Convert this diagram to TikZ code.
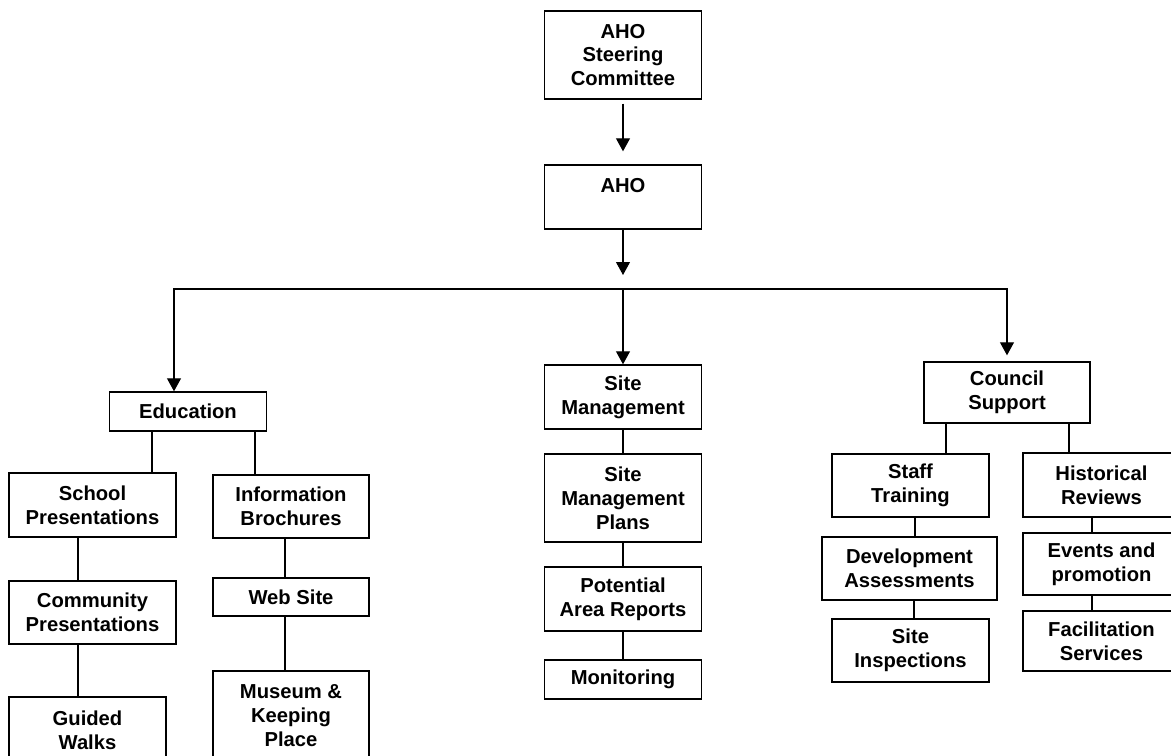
\documentclass[tikz,border=0pt]{standalone}
\usepackage{fontspec}
\setmainfont{Liberation Sans}
\usetikzlibrary{arrows.meta}

\begin{document}
\begin{tikzpicture}[x=0.02cm, y=-0.02cm, font=\bfseries\fontsize{11.5}{13.6}\selectfont,
	box/.style={draw, line width=0.8pt, align=center, inner sep=0pt, minimum width=3.14cm, minimum height=#1},
	box/.default=1.28cm,
	link/.style={line width=0.6pt},
	arr/.style={line width=0.6pt, -{Triangle[length=2.6mm, width=2.8mm]}}]
	\useasboundingbox (0,0) rectangle (1171,756);
	\clip (0,0) rectangle (1171,756);
	\node[box=1.76cm] (steer) at (623,55) {AHO\\Steering\\Committee};
	\node[box] (aho) at (623,197) {AHO\\~};
	\coordinate (split) at (623,289);
	\node[box=0.78cm] (edu) at (188,411.5) {Education};
	\node[box] (site) at (623,397) {Site\\Management};
	\node[box=1.22cm, minimum width=3.32cm] (council) at (1007,392.5) {Council\\Support};

	\node[box=1.28cm, minimum width=3.34cm] (school) at (92.5,505) {School\\Presentations};
	\node[box=1.26cm, minimum width=3.34cm] (community) at (92.5,612.5) {Community\\Presentations};
	\node[box=1.32cm] (guided) at (87.5,730) {Guided\\Walks};
	\node[box=1.26cm, minimum width=3.12cm] (info) at (291,506.5) {Information\\Brochures};
	\node[box=0.76cm, minimum width=3.12cm] (web) at (291,597) {Web Site};
	\node[box=1.8cm, minimum width=3.12cm] (museum) at (291,716) {Museum \&\\Keeping\\Place};

	\node[box=1.76cm] (plans) at (623,498) {Site\\Management\\Plans};
	\node[box] (reports) at (623,599) {Potential\\Area Reports};
	\node[box=0.78cm] (monitor) at (623,679.5) {Monitoring};

	\node[box=1.26cm] (staff) at (910.5,485.5) {Staff\\Training};
	\node[box=1.26cm, minimum width=3.5cm] (devel) at (909.5,568.5) {Development\\Assessments};
	\node[box=1.26cm] (inspect) at (910.5,650.5) {Site\\Inspections};
	\node[box] (hist) at (1101.5,485) {Historical\\Reviews};
	\node[box=1.24cm] (events) at (1101.5,564) {Events and\\promotion};
	\node[box=1.2cm] (facil) at (1101.5,641) {Facilitation\\Services};

	\draw[arr, shorten <=0.08cm, shorten >=0.26cm] (steer) -- (aho);
	\draw[arr, shorten >=0.28cm] (aho) -- (split);
	\draw[arr] (split) -| ([xshift=-0.28cm]edu.north);
	\draw[arr] (split) -- (site);
	\draw[arr] (split) -| ([yshift=0.12cm]council.north);

	\draw[link] ([xshift=-0.72cm]edu.south) -- ([xshift=-0.72cm]edu.south |- school.north);
	\draw[link] ([xshift=1.34cm]edu.south) -- ([xshift=1.34cm]edu.south |- info.north);
	\draw[link] ([xshift=-0.29cm]school.south) -- ([xshift=-0.29cm]school.south |- community.north);
	\draw[link] ([xshift=-0.29cm]community.south) -- ([xshift=-0.29cm]community.south |- guided.north);
	\draw[link] ([xshift=-0.12cm]info.south) -- ([xshift=-0.12cm]info.south |- web.north);
	\draw[link] ([xshift=-0.12cm]web.south) -- ([xshift=-0.12cm]web.south |- museum.north);

	\draw[link] (site) -- (plans);
	\draw[link] (plans) -- (reports);
	\draw[link] (reports) -- (monitor);

	\draw[link] ([xshift=-1.22cm]council.south) -- ([xshift=-1.22cm]council.south |- staff.north);
	\draw[link] ([xshift=1.24cm]council.south) -- ([xshift=1.24cm]council.south |- hist.north);
	\draw[link] ([xshift=0.09cm]staff.south) -- ([xshift=0.09cm]staff.south |- devel.north);
	\draw[link] ([xshift=0.09cm]devel.south) -- ([xshift=0.09cm]devel.south |- inspect.north);
	\draw[link] ([xshift=-0.19cm]hist.south) -- ([xshift=-0.19cm]hist.south |- events.north);
	\draw[link] ([xshift=-0.19cm]events.south) -- ([xshift=-0.19cm]events.south |- facil.north);
\end{tikzpicture}
\end{document}
